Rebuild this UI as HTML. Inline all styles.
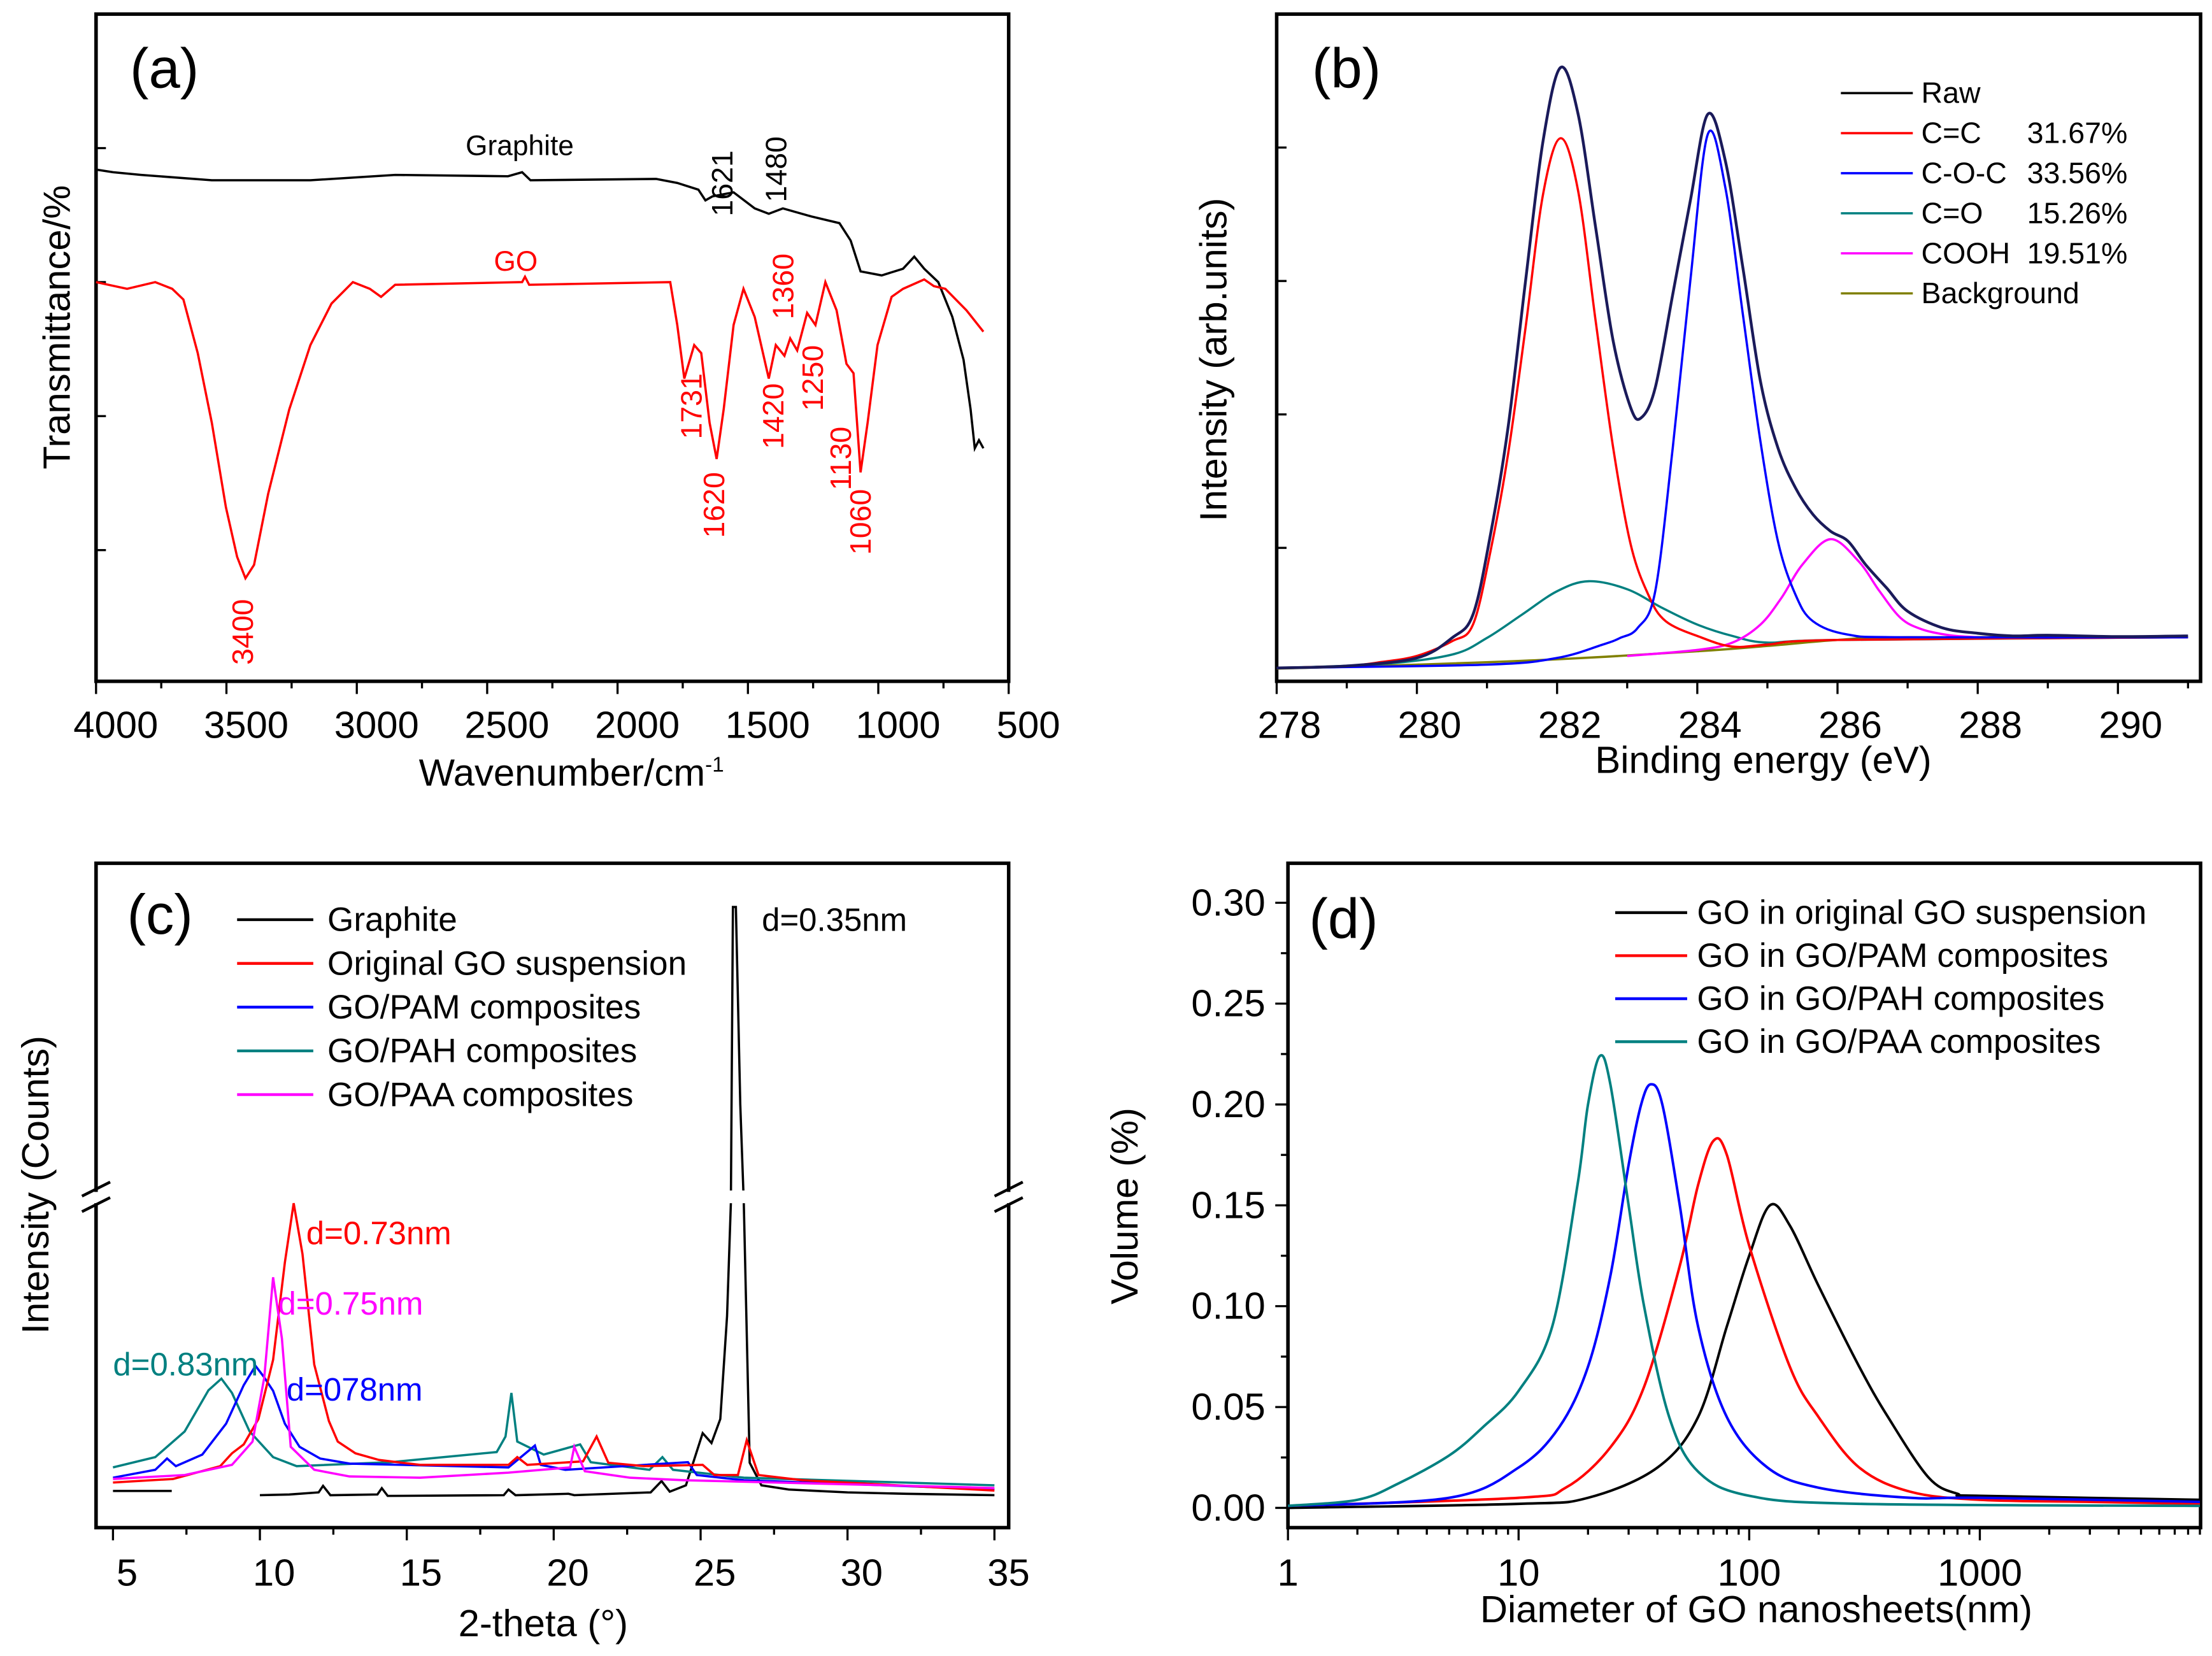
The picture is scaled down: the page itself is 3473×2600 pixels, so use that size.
<!DOCTYPE html>
<html><head><meta charset="utf-8"><style>
html,body{margin:0;padding:0;background:#fff}
svg{display:block}
text{font-family:"Liberation Sans",Arial,sans-serif}
</style></head><body>
<svg id="fig" xmlns="http://www.w3.org/2000/svg" width="3473" height="2600" viewBox="0 0 1568 1174">
<rect x="0" y="0" width="1568" height="1174" fill="#fff"/>
<g id="pa"></g>
<g id="pb"></g>
<g id="pc"></g>
<g id="pd"></g>
<text x="92" y="62" font-size="40">(a)</text>
<text x="330" y="110" font-size="20">Graphite</text>
<text x="350" y="192" font-size="20" fill="#f00">GO</text>
<text x="405" y="557" font-size="27" text-anchor="middle">Wavenumber/cm<tspan font-size="15" dy="-10">-1</tspan></text>
<text transform="rotate(-90 40 232)" x="40" y="232" font-size="27" text-anchor="middle" dominant-baseline="central">Transmittance/%</text>
<text x="930" y="62" font-size="40">(b)</text>
<text x="1250" y="548" font-size="27" text-anchor="middle">Binding energy (eV)</text>
<text transform="rotate(-90 860 255)" x="860" y="255" font-size="27" text-anchor="middle" dominant-baseline="central">Intensity (arb.units)</text>
<text x="90" y="662" font-size="40">(c)</text>
<text x="385" y="1160" font-size="27" text-anchor="middle">2-theta (°)</text>
<text transform="rotate(-90 25 840)" x="25" y="840" font-size="27" text-anchor="middle" dominant-baseline="central">Intensity (Counts)</text>
<text x="540" y="660" font-size="23">d=0.35nm</text>
<text x="217" y="882" font-size="23" fill="#f00">d=0.73nm</text>
<text x="197" y="932" font-size="23" fill="#f0f">d=0.75nm</text>
<text x="80" y="975" font-size="23" fill="#008080">d=0.83nm</text>
<text x="203" y="993" font-size="23" fill="#00f">d=078nm</text>
<text x="928" y="665" font-size="40">(d)</text>
<text x="1245" y="1150" font-size="27" text-anchor="middle">Diameter of GO nanosheets(nm)</text>
<text transform="rotate(-90 797 855)" x="797" y="855" font-size="27" text-anchor="middle" dominant-baseline="central">Volume (%)</text>
</svg>
<script>
// ---------- Panel (a) data ----------
const aGoWn=[4000,3881,3773,3708,3665,3610,3556,3502,3459,3427,3394,3340,3259,3178,3097,3015,2950,2907,2853,2366,2355,2339,1798,1771,1744,1706,1679,1647,1620,1593,1555,1517,1474,1420,1393,1360,1338,1311,1273,1241,1203,1160,1122,1095,1068,1041,1003,949,905,824,787,743,662,597];
const aGoT=[3.0,2.95,3.0,2.95,2.87,2.47,1.95,1.32,0.95,0.79,0.89,1.42,2.05,2.53,2.84,3.0,2.95,2.89,2.98,3.0,3.04,2.98,3.0,2.68,2.28,2.53,2.47,1.95,1.68,2.05,2.68,2.95,2.74,2.28,2.53,2.45,2.58,2.49,2.77,2.68,3.0,2.79,2.39,2.32,1.58,1.95,2.53,2.89,2.95,3.02,2.97,2.95,2.79,2.63];
const aGrWn=[4000,3935,3827,3556,3178,2853,2420,2366,2334,1852,1771,1690,1663,1636,1555,1474,1420,1366,1257,1149,1106,1068,987,905,862,824,770,716,673,646,630,614,597];
const aGrT=[3.84,3.82,3.80,3.76,3.76,3.80,3.79,3.82,3.76,3.77,3.74,3.69,3.61,3.64,3.67,3.55,3.51,3.55,3.49,3.44,3.31,3.08,3.05,3.1,3.19,3.1,3.0,2.74,2.42,2.05,1.76,1.82,1.76];
const aXTicks=[4000,3500,3000,2500,2000,1500,1000,500];
const aYTicks=[1,2,3,4];
const aPeakLabels=["1621","1480","1731","1620","1420","1360","1250","1130","1060","3400"];

// ---------- Panel (b) data ----------
const bRawE=[278,279,280,280.5,280.8,281.05,281.3,281.55,281.8,282.05,282.3,282.55,282.8,283.05,283.2,283.4,283.65,283.9,284.15,284.4,284.65,284.9,285.15,285.4,285.65,285.9,286.15,286.4,286.7,287,287.5,288,288.5,289,290,291];
const bRawI=[2,2.3,3.5,6.5,10,22,38,60,81,92,85,68,51,41,39.5,44,58,72,85,78,62,45,35,29,25,22.5,21,17.5,14,10.5,8,7.2,6.8,6.9,6.7,6.8];
const bCCE=[278,279,279.5,280,280.5,280.8,281.05,281.3,281.55,281.8,282.05,282.3,282.55,282.8,283.05,283.3,283.55,284.05,284.5,285,286,291];
const bCCI=[2,2.3,2.9,3.8,6,8.5,19.5,34,53,73,81.4,73.5,54,35,20.5,13,9,6.6,5.2,5.5,6.2,6.6];
const bCOCE=[278,281,282,282.65,282.9,283.15,283.4,283.65,283.9,284.15,284.4,284.65,284.9,285.15,285.4,285.65,286.15,287,291];
const bCOCI=[2,2.5,3.5,5.5,6.5,8,13.5,35,60,82,74,55,36,21,13,9,7,6.6,6.6];
const bCOE=[278,279.5,280.5,281,281.5,282,282.45,283,283.5,284,284.5,285,286,291];
const bCOI=[2,2.6,4,6.5,10,13.5,15,13.8,11,8.5,6.8,5.8,6.2,6.6];
const bCOOHE=[283,284,284.5,284.9,285.2,285.5,285.9,286.3,286.6,286.9,287.2,287.6,288];
const bCOOHI=[3.8,4.7,5.8,8.5,12.5,17.5,21.3,18,13.5,9.5,7.8,6.9,6.6];
const bBgE=[278,280,282,284,285,286,287,291];
const bBgI=[1.9,2.5,3.3,4.5,5.3,6.2,6.6,6.6];
const bXTicks=[278,280,282,284,286,288,290];
const bYTicks=[20,40,60,80];
const bLegendNames=["Raw","C=C","C-O-C","C=O","COOH","Background"];
const bLegendPct=["","31.67%","33.56%","15.26%","19.51%",""];

// ---------- Panel (c) data ----------
const cGr1X=[5,7];
const cGr1Y=[26,26];
const cGrX=[10,11,12,12.15,12.4,14,14.15,14.35,18.3,18.46,18.7,20.5,20.7,23.3,23.67,23.95,24.5,25.07,25.37,25.67,25.9,26.03,26.1,26.2,26.35,26.47,26.67,27.07,28,30,32,35];
const cGrY=[23,23.5,25,29.6,23,23.5,28,22.5,23,27,23,24,23,25,33,25.5,30,67,60,77,150,230,440,440,300,230,46,30,27,25,24,23];
const cGoX=[5,7.04,8.65,9.05,9.45,9.95,10.45,10.85,11.15,11.45,11.85,12.35,12.65,13.25,14.05,15.45,18.46,18.76,19.1,21.0,21.46,21.86,23.07,25.07,25.47,26.27,26.57,26.97,28.47,35];
const cGoY=[32,34.5,43.6,52.7,59,77,119,188,230,194,115.6,75.5,61,52.7,48,44.5,44.5,50,44.5,47,64.6,46,43.6,44.5,37.3,37.3,62,37.3,33.6,26.3];
const cPamX=[5,6.44,6.84,7.14,8.04,8.85,9.45,9.85,10.15,10.45,10.85,11.35,12.05,13.05,18.46,19.36,19.56,20.4,24.57,24.87,26.47,35];
const cPamY=[35.4,41,49,43.6,51.8,73.7,101,114.7,106.5,97,73.7,57.3,49,45.4,42.7,58.2,44.5,41,46.4,37.3,33.6,27.2];
const cPahX=[5,6.44,7.44,8.25,8.69,9.05,9.65,10.45,11.25,14.45,18.06,18.36,18.56,18.76,19.66,20.9,21.26,23.26,23.7,24.06,26.47,35];
const cPahY=[42.7,50,68.2,97.4,105.6,95.5,68.2,50,43.6,46.4,53.6,64.6,95.5,61,51.8,59,46.4,41,50,41,35.4,30];
const cPaaX=[5,7.44,9.05,9.75,10.15,10.45,10.75,11.05,11.85,13.05,15.45,18.46,20.56,20.7,21.06,22.6,24.47,35];
const cPaaY=[34.5,37.3,44.5,61,106.5,177.5,134,57.3,41,36.3,35.4,39,42.7,57.3,40,35.4,33.6,28.1];
const cXTicks=[5,10,15,20,25,30,35];
const cLegendNames=["Graphite","Original GO suspension","GO/PAM composites","GO/PAH composites","GO/PAA composites"];

// ---------- Panel (d) data ----------
const dOrigX=[1,10,20,40,60,80,100,123,150,200,300,400,600,800,1000,9000];
const dOrigY=[0,0.002,0.005,0.02,0.045,0.09,0.125,0.15,0.14,0.11,0.07,0.045,0.015,0.007,0.006,0.004];
const dPamX=[1,10,16,25,35,50,60,70,80,100,150,200,300,500,1000,3000,9000];
const dPamY=[0.001,0.005,0.01,0.03,0.06,0.12,0.16,0.182,0.175,0.13,0.07,0.045,0.02,0.008,0.004,0.003,0.002];
const dPahX=[1,5,10,15,20,25,30,34,37.5,42,50,60,80,120,200,500,1000,9000];
const dPahY=[0.001,0.005,0.02,0.04,0.07,0.115,0.17,0.2,0.21,0.2,0.15,0.09,0.045,0.02,0.01,0.005,0.005,0.003];
const dPaaX=[1,2,3,5,7,10,14,18,20,22.5,25,30,35,45,60,100,300,9000];
const dPaaY=[0.001,0.004,0.012,0.026,0.04,0.058,0.09,0.16,0.2,0.224,0.21,0.15,0.1,0.045,0.018,0.006,0.002,0.001];
const dXTicks=[1,10,100,1000];
const dYTicks=[0,0.05,0.1,0.15,0.2,0.25,0.3];
const dLegendNames=["GO in original GO suspension","GO in GO/PAM composites","GO in GO/PAH composites","GO in GO/PAA composites"];

const NS="http://www.w3.org/2000/svg";
function mk(parent,tag,name,attrs){
  const el=document.createElementNS(NS,tag);
  
  
  for(const k in attrs) el.setAttribute(k,attrs[k]);
  parent.appendChild(el);
  return el;
}
function txt(parent,name,x,y,s,attrs){const t=mk(parent,'text',name,Object.assign({x:x,y:y},attrs||{}));t.textContent=s;return t;}
function linePath(xs,ys,fx,fy){return xs.map((v,i)=>(i?'L':'M')+fx(v).toFixed(2)+','+fy(ys[i]).toFixed(2)).join('');}
function smoothPath(xs,ys,fx,fy){
  const P=xs.map((v,i)=>[fx(v),fy(ys[i])]);
  let d='M'+P[0][0].toFixed(2)+','+P[0][1].toFixed(2);
  for(let i=0;i<P.length-1;i++){
    const p0=P[i-1]||P[i],p1=P[i],p2=P[i+1],p3=P[i+2]||P[i+1];
    const c1=[p1[0]+(p2[0]-p0[0])/6,p1[1]+(p2[1]-p0[1])/6];
    const c2=[p2[0]-(p3[0]-p1[0])/6,p2[1]-(p3[1]-p1[1])/6];
    d+='C'+c1[0].toFixed(2)+','+c1[1].toFixed(2)+' '+c2[0].toFixed(2)+','+c2[1].toFixed(2)+' '+p2[0].toFixed(2)+','+p2[1].toFixed(2);
  }
  return d;
}
function frame(g,name,x0,y0,x1,y1){mk(g,'rect',name,{x:x0,y:y0,width:x1-x0,height:y1-y0,fill:'none',stroke:'#000','stroke-width':2.5});}

// ===== Panel (a) =====
(function(){
  const g=document.getElementById('pa');
  const X0=68,X1=715,Y0=10,Y1=483;
  const xA=w=>X0+(4000-w)/3500*(X1-X0);
  const yA=t=>485-t*95;
  frame(g,'plot-frame-a',X0,Y0,X1,Y1);
  for(let w=4000;w>=500;w-=250){
    const maj=(w%500===0);
    mk(g,'line',maj?'x-tick-a':'x-minor-tick-a',{x1:xA(w),x2:xA(w),y1:Y1,y2:Y1+(maj?9:5),stroke:'#000','stroke-width':1.5});
  }
  aXTicks.forEach(w=>txt(g,'x-tick-label-a',xA(w)+14,523,String(w),{'font-size':27,'text-anchor':'middle'}));
  aYTicks.forEach(t=>mk(g,'line','y-tick-a',{x1:X0,x2:X0+7,y1:yA(t),y2:yA(t),stroke:'#000','stroke-width':1.5}));
  mk(g,'path','graphite-curve',{d:linePath(aGrWn,aGrT,xA,yA),fill:'none',stroke:'#000','stroke-width':1.6});
  mk(g,'path','go-curve',{d:linePath(aGoWn,aGoT,xA,yA),fill:'none',stroke:'#f00','stroke-width':1.6});
  const pos=[[512,130,'#000'],[550,120,'#000'],[490,288,'#f00'],[506,358,'#f00'],[548,295,'#f00'],[555,203,'#f00'],[576,268,'#f00'],[596,325,'#f00'],[610,370,'#f00'],[172,448,'#f00']];
  aPeakLabels.forEach((s,i)=>{const p=pos[i];txt(g,'peak-label-'+s,p[0],p[1],s,{'font-size':21,fill:p[2],'text-anchor':'middle','dominant-baseline':'central',transform:'rotate(-90 '+p[0]+' '+p[1]+')'});});
})();

// ===== Panel (b) =====
(function(){
  const g=document.getElementById('pb');
  const X0=905,X1=1560,Y0=10,Y1=483;
  const xB=e=>X0+(e-278)*49.7;
  const yB=v=>Y1-v*4.73;
  frame(g,'plot-frame-b',X0,Y0,X1,Y1);
  for(let e=278;e<=291;e+=1){
    const maj=(e%2===0);
    mk(g,'line',maj?'x-tick-b':'x-minor-tick-b',{x1:xB(e),x2:xB(e),y1:Y1,y2:Y1+(maj?9:5),stroke:'#000','stroke-width':1.5});
  }
  bXTicks.forEach(e=>txt(g,'x-tick-label-b',xB(e)+9,523,String(e),{'font-size':27,'text-anchor':'middle'}));
  bYTicks.forEach(v=>mk(g,'line','y-tick-b',{x1:X0,x2:X0+7,y1:yB(v),y2:yB(v),stroke:'#000','stroke-width':1.5}));
  mk(g,'path','background-curve',{d:smoothPath(bBgE,bBgI,xB,yB),fill:'none',stroke:'#808000','stroke-width':1.6});
  mk(g,'path','coh-curve',{d:smoothPath(bCOE,bCOI,xB,yB),fill:'none',stroke:'#008080','stroke-width':1.6});
  mk(g,'path','cooh-curve',{d:smoothPath(bCOOHE,bCOOHI,xB,yB),fill:'none',stroke:'#f0f','stroke-width':1.6});
  mk(g,'path','cc-curve',{d:smoothPath(bCCE,bCCI,xB,yB),fill:'none',stroke:'#f00','stroke-width':1.6});
  mk(g,'path','coc-curve',{d:smoothPath(bCOCE,bCOCI,xB,yB),fill:'none',stroke:'#00f','stroke-width':1.6});
  mk(g,'path','raw-curve',{d:smoothPath(bRawE,bRawI,xB,yB),fill:'none',stroke:'#1a1a5a','stroke-width':2});
  const cols=['#000','#f00','#00f','#008080','#f0f','#808000'];
  bLegendNames.forEach((n,i)=>{
    const y=66+i*28.4;
    mk(g,'line','legend-line-'+n.toLowerCase(),{x1:1305,x2:1356,y1:y,y2:y,stroke:cols[i],'stroke-width':1.6});
    txt(g,'legend-text-'+n.toLowerCase(),1362,y+7,n,{'font-size':21});
    if(bLegendPct[i]) txt(g,'legend-pct-'+n.toLowerCase(),1437,y+7,bLegendPct[i],{'font-size':21});
  });
})();

// ===== Panel (c) =====
(function(){
  const g=document.getElementById('pc');
  const X0=68,X1=715,Y0=612,Y1=1083;
  const xC=t=>80+(t-5)*20.83;
  const yC=v=>Y1-v;
  frame(g,'plot-frame-c',X0,Y0,X1,Y1);
  for(let t=5;t<=35;t+=2.5){
    const maj=(t%5===0);
    mk(g,'line',maj?'x-tick-c':'x-minor-tick-c',{x1:xC(t),x2:xC(t),y1:Y1,y2:Y1+(maj?9:5),stroke:'#000','stroke-width':1.5});
  }
  cXTicks.forEach(t=>txt(g,'x-tick-label-c',xC(t)+10,1124,String(t),{'font-size':27,'text-anchor':'middle'}));
  mk(g,'path','graphite-xrd-start',{d:linePath(cGr1X,cGr1Y,xC,yC),fill:'none',stroke:'#000','stroke-width':1.6});
  mk(g,'path','graphite-xrd',{d:linePath(cGrX,cGrY,xC,yC),fill:'none',stroke:'#000','stroke-width':1.6});
  mk(g,'path','pah-xrd',{d:linePath(cPahX,cPahY,xC,yC),fill:'none',stroke:'#008080','stroke-width':1.6});
  mk(g,'path','pam-xrd',{d:linePath(cPamX,cPamY,xC,yC),fill:'none',stroke:'#00f','stroke-width':1.6});
  mk(g,'path','go-xrd',{d:linePath(cGoX,cGoY,xC,yC),fill:'none',stroke:'#f00','stroke-width':1.6});
  mk(g,'path','paa-xrd',{d:linePath(cPaaX,cPaaY,xC,yC),fill:'none',stroke:'#f0f','stroke-width':1.6});
  mk(g,'rect','peak-break-gap',{x:xC(25.8),y:844,width:xC(26.6)-xC(25.8),height:9,fill:'#fff'});
  [X0,X1].forEach((bx,i)=>{
    mk(g,'rect','axis-break-gap',{x:bx-8,y:845,width:16,height:8,fill:'#fff'});
    mk(g,'line','axis-break-mark',{x1:bx-10,y1:848,x2:bx+10,y2:838,stroke:'#000','stroke-width':2});
    mk(g,'line','axis-break-mark',{x1:bx-10,y1:859,x2:bx+10,y2:849,stroke:'#000','stroke-width':2});
  });
  const cols=['#000','#f00','#00f','#008080','#f0f'];
  cLegendNames.forEach((n,i)=>{
    const y=652+i*31;
    mk(g,'line','legend-line-c',{x1:168,x2:222,y1:y,y2:y,stroke:cols[i],'stroke-width':2});
    txt(g,'legend-text-c',232,y+8,n,{'font-size':24});
  });
})();

// ===== Panel (d) =====
(function(){
  const g=document.getElementById('pd');
  const X0=913,X1=1560,Y0=612,Y1=1083;
  const xD=d=>X0+Math.log10(d)*163.5;
  const yD=v=>1069-v*1430;
  frame(g,'plot-frame-d',X0,Y0,X1,Y1);
  for(let dec=1;dec<=1000;dec*=10){
    for(let k=1;k<10;k++){
      const v=dec*k; if(xD(v)>X1) break;
      mk(g,'line',k===1?'x-tick-d':'x-minor-tick-d',{x1:xD(v),x2:xD(v),y1:Y1,y2:Y1+(k===1?9:5),stroke:'#000','stroke-width':1.5});
    }
  }
  dXTicks.forEach(v=>txt(g,'x-tick-label-d',xD(v),1124,String(v),{'font-size':27,'text-anchor':'middle'}));
  dYTicks.forEach(v=>{
    mk(g,'line','y-tick-d',{x1:X0-9,x2:X0,y1:yD(v),y2:yD(v),stroke:'#000','stroke-width':1.5});
    txt(g,'y-tick-label-d',897,yD(v)+9,v.toFixed(2),{'font-size':27,'text-anchor':'end'});
  });
  for(let v=0.025;v<0.3;v+=0.05) mk(g,'line','y-minor-tick-d',{x1:X0-5,x2:X0,y1:yD(v),y2:yD(v),stroke:'#000','stroke-width':1.5});
  mk(g,'path','orig-go-dist',{d:smoothPath(dOrigX,dOrigY,xD,yD),fill:'none',stroke:'#000','stroke-width':1.8});
  mk(g,'path','pam-dist',{d:smoothPath(dPamX,dPamY,xD,yD),fill:'none',stroke:'#f00','stroke-width':1.8});
  mk(g,'path','pah-dist',{d:smoothPath(dPahX,dPahY,xD,yD),fill:'none',stroke:'#00f','stroke-width':1.8});
  mk(g,'path','paa-dist',{d:smoothPath(dPaaX,dPaaY,xD,yD),fill:'none',stroke:'#008080','stroke-width':1.8});
  const cols=['#000','#f00','#00f','#008080'];
  dLegendNames.forEach((n,i)=>{
    const y=647+i*30.5;
    mk(g,'line','legend-line-d',{x1:1145,x2:1196,y1:y,y2:y,stroke:cols[i],'stroke-width':2});
    txt(g,'legend-text-d',1203,y+8,n,{'font-size':24});
  });
})();
</script>
</body></html>
